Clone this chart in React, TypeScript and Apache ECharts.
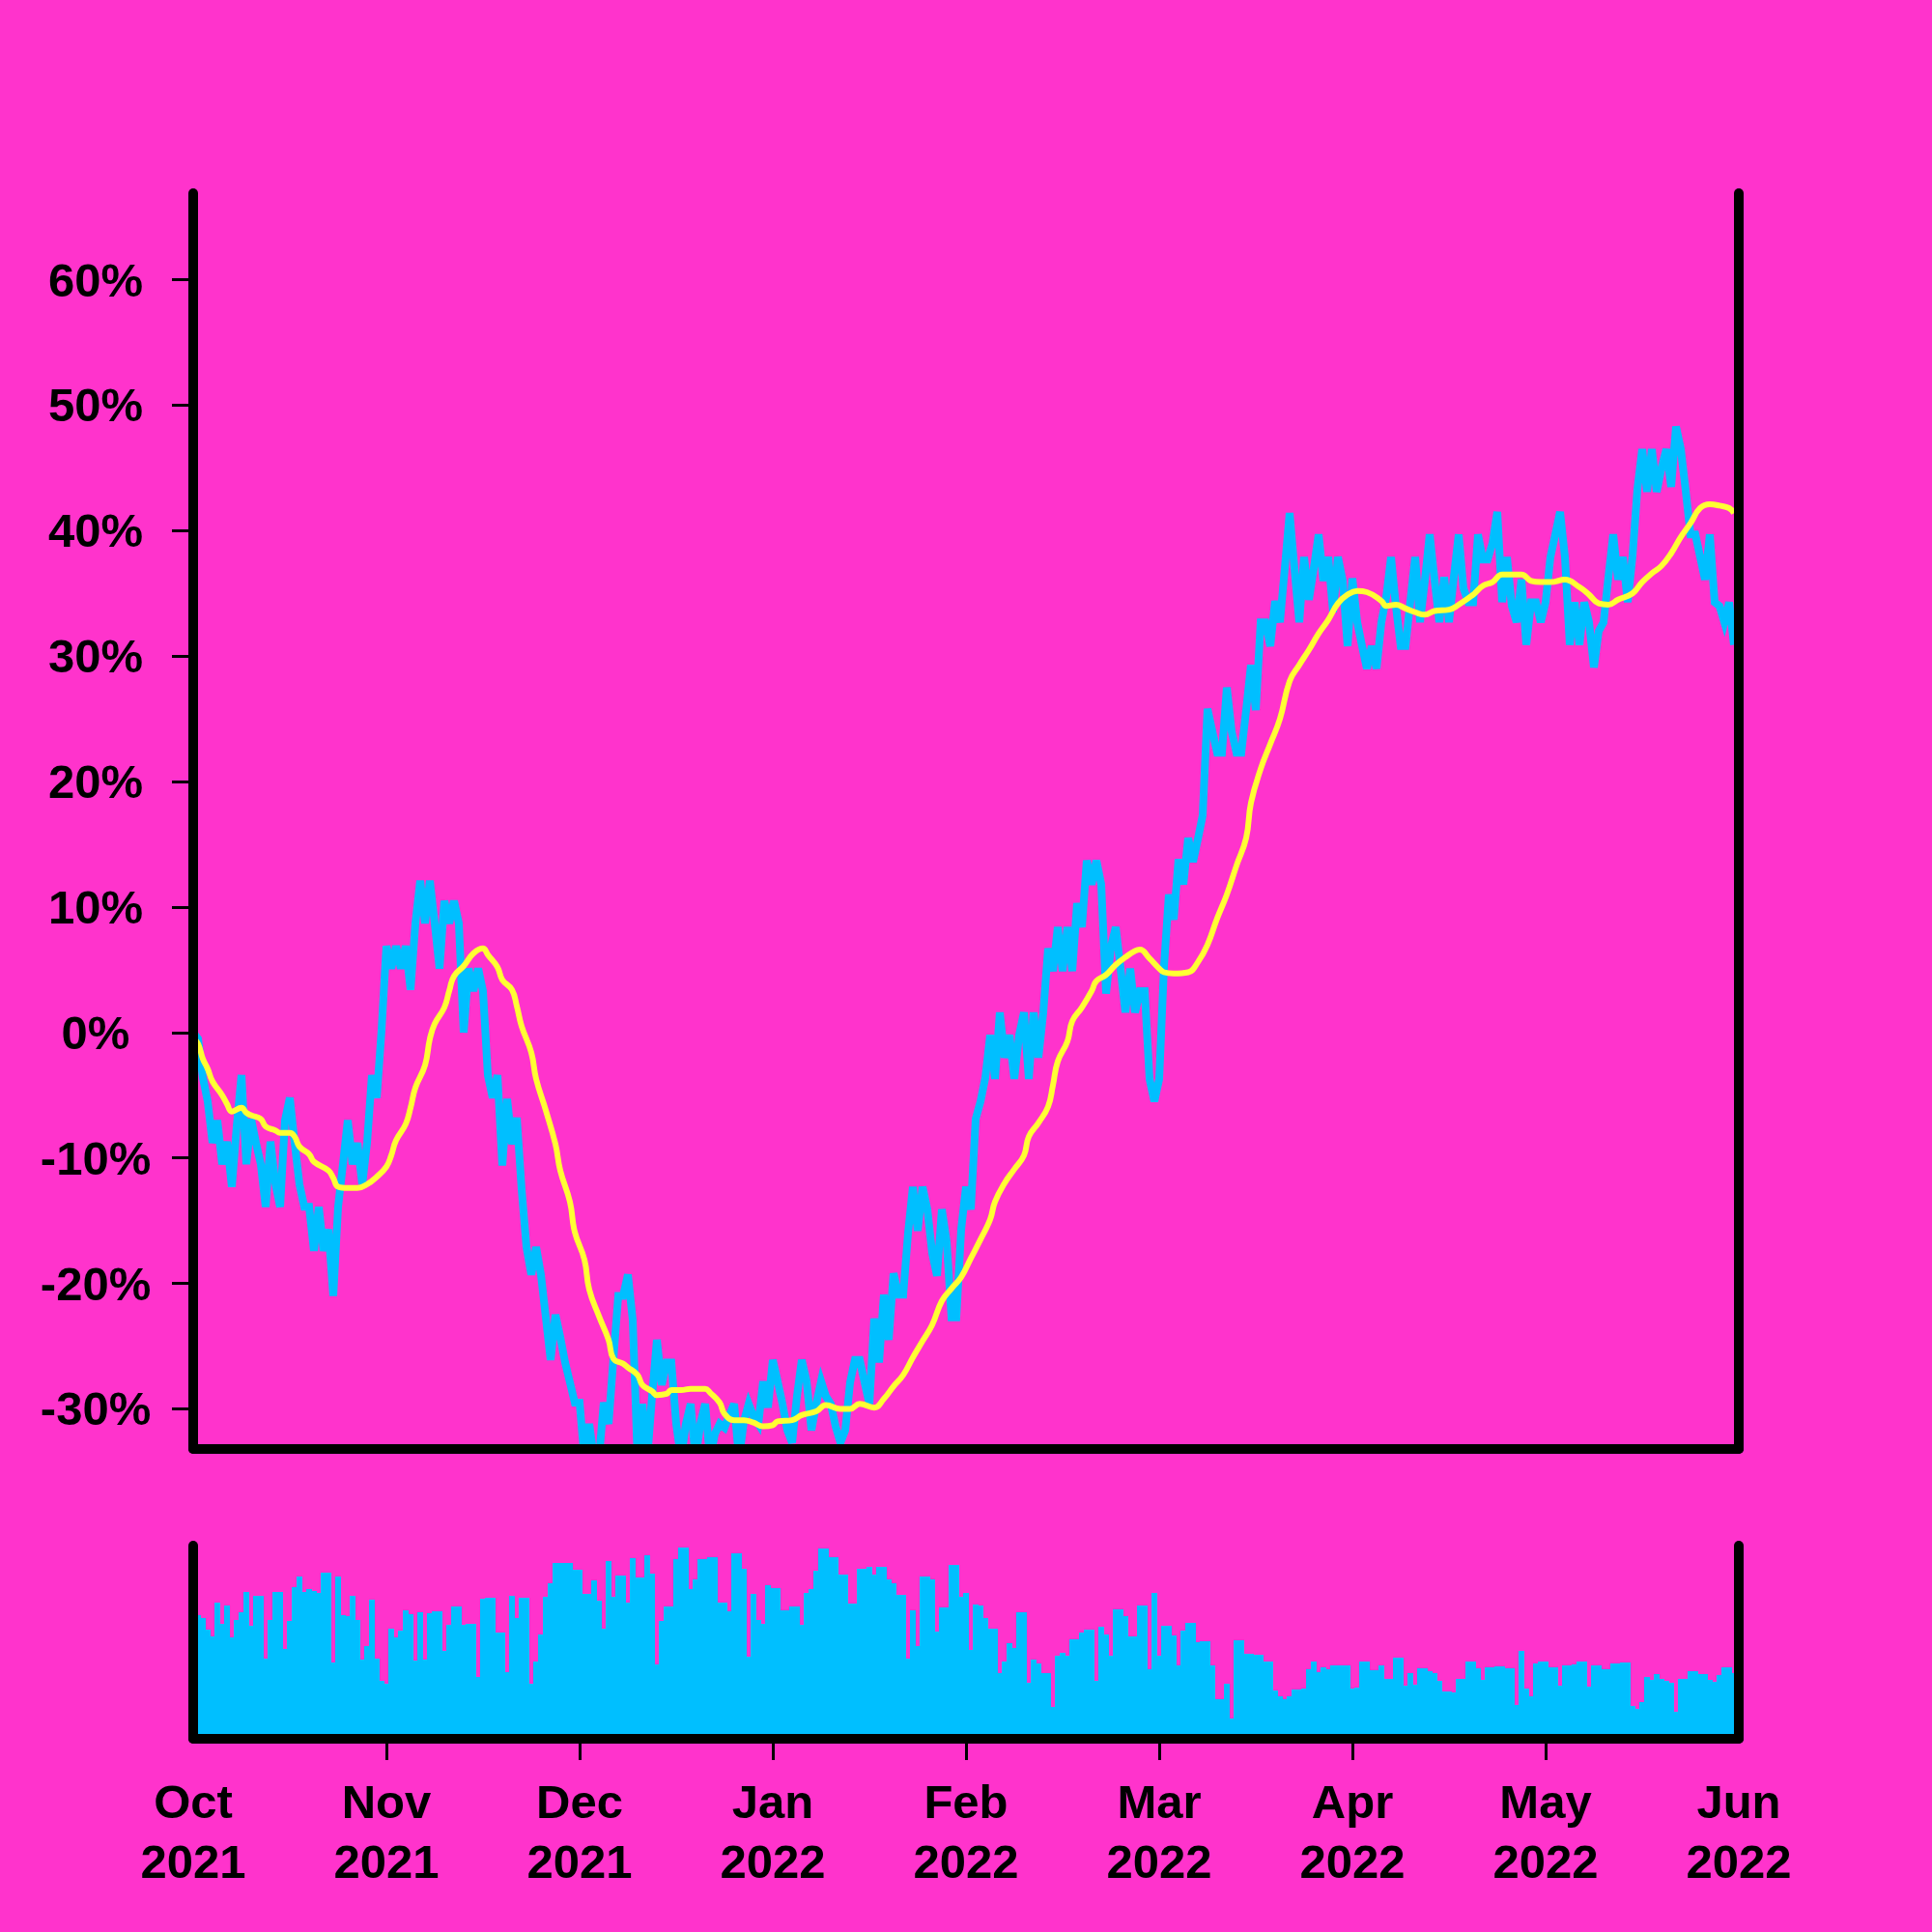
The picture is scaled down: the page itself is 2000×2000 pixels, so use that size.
import React, { useEffect, useRef } from "react";
import * as echarts from "echarts";

// ---- data ----
const monthLabels = ["Oct", "Nov", "Dec", "Jan", "Feb", "Mar", "Apr", "May", "Jun"];
const yearLabels = ["2021", "2021", "2021", "2022", "2022", "2022", "2022", "2022", "2022"];
const monthStartIdx = [0, 40, 80, 120, 160, 200, 240, 280, 320];
const innerMonthTicks = [40, 80, 120, 160, 200, 240, 280];
const yTickValues = [-30, -20, -10, 0, 10, 20, 30, 40, 50, 60];

// return vs. start (%), one value per period index 0..319
const priceValues: number[] = [
  0.0, -0.5, -3.6, -5.5, -8.8, -7.0, -10.5, -8.7, -12.3, -7.5,
  -3.4, -10.5, -6.9, -8.8, -10.5, -13.9, -8.7, -12.0, -13.9, -7.0,
  -5.2, -8.8, -12.1, -13.9, -13.9, -17.4, -13.9, -17.4, -15.7, -21.0,
  -13.9, -10.5, -7.0, -10.5, -8.8, -12.1, -8.8, -3.4, -5.2, 0.2,
  6.9, 5.1, 6.9, 5.1, 6.9, 3.4, 8.7, 12.1, 8.7, 12.1,
  8.7, 5.1, 10.5, 8.7, 10.5, 8.7, 0.0, 5.1, 3.3, 5.1,
  3.3, -3.4, -5.2, -3.4, -10.6, -5.3, -8.9, -6.8, -12.5, -17.1,
  -19.3, -17.1, -19.3, -22.7, -26.1, -22.5, -24.3, -26.3, -27.9, -29.5,
  -29.5, -34.0, -31.2, -34.0, -34.0, -29.5, -31.2, -26.0, -21.0, -21.0,
  -19.3, -22.9, -34.0, -29.6, -34.0, -29.0, -24.5, -28.1, -26.3, -26.3,
  -31.2, -34.0, -31.2, -29.6, -34.0, -31.2, -29.6, -34.0, -32.0, -31.2,
  -31.5, -30.5, -29.6, -34.0, -31.0, -29.6, -30.6, -31.2, -27.8, -29.9,
  -26.1, -27.8, -29.6, -31.7, -32.7, -29.0, -26.1, -27.8, -31.7, -29.6,
  -27.8, -29.0, -29.6, -31.4, -32.7, -31.7, -27.9, -26.1, -26.1, -27.9,
  -29.6, -22.8, -26.3, -20.9, -24.5, -19.2, -20.9, -20.9, -16.0, -12.3,
  -15.8, -12.3, -14.1, -17.6, -19.4, -14.1, -16.7, -22.7, -22.7, -15.7,
  -12.3, -14.1, -6.9, -5.5, -3.6, -0.2, -3.7, 1.6, -2.0, -0.2,
  -3.7, -0.2, 1.6, -3.7, 1.6, -2.0, 1.6, 6.7, 4.9, 8.4,
  4.9, 8.4, 4.9, 10.3, 8.4, 13.7, 11.8, 13.7, 11.8, 3.1,
  6.8, 8.4, 5.1, 1.6, 5.1, 1.6, 3.3, 3.3, -3.7, -5.5,
  -3.7, 5.3, 11.0, 9.0, 13.8, 11.8, 15.5, 13.6, 15.4, 17.3,
  25.8, 24.0, 22.3, 22.3, 27.5, 24.0, 22.3, 22.3, 25.7, 29.3,
  25.7, 32.7, 32.7, 30.8, 34.4, 32.7, 37.0, 41.4, 37.0, 32.7,
  37.9, 34.5, 37.0, 39.7, 36.0, 37.9, 33.5, 37.9, 36.0, 30.8,
  36.2, 32.7, 30.8, 29.0, 30.8, 29.0, 32.7, 34.7, 37.9, 34.0,
  30.8, 30.8, 34.4, 37.9, 32.7, 36.0, 39.7, 36.1, 32.7, 36.3,
  32.7, 36.3, 39.7, 35.4, 34.3, 34.3, 39.7, 37.7, 37.7, 39.0,
  41.5, 34.3, 37.9, 34.0, 32.7, 36.1, 30.9, 34.3, 34.3, 32.7,
  34.3, 37.9, 39.7, 41.5, 37.9, 30.9, 34.3, 30.9, 34.3, 32.7,
  29.1, 32.0, 32.7, 36.3, 39.7, 36.1, 37.9, 34.3, 38.0, 43.3,
  46.5, 43.1, 46.5, 43.1, 45.0, 46.5, 43.5, 48.3, 46.5, 43.2,
  39.7, 39.7, 37.9, 36.1, 39.7, 34.3, 34.0, 32.7, 34.3, 30.9,
];

// moving average (%), [period index, value]
const averagePoints: [number, number][] = [
  [0, -0.5], [1, -0.9], [2, -2.1], [3, -2.9], [4, -3.9], [6, -5.0], [7, -5.7], [8, -6.3],
  [10, -6.0], [11, -6.4], [12, -6.6], [14, -6.9], [15, -7.5], [17, -7.8], [18, -8.0], [20, -8.0],
  [21, -8.3], [22, -9.1], [24, -9.7], [25, -10.3], [28, -11.0], [29, -11.6], [30, -12.3], [32, -12.4],
  [34, -12.4], [36, -12.1], [38, -11.5], [40, -10.7], [41, -9.8], [42, -8.6], [44, -7.3], [45, -6.0],
  [46, -4.4], [48, -2.6], [49, -0.5], [50, 0.7], [52, 2.0], [53, 3.3], [54, 4.5], [56, 5.3],
  [58, 6.3], [60, 6.7], [61, 6.2], [63, 5.2], [64, 4.2], [66, 3.4], [67, 2.1], [68, 0.5],
  [70, -1.6], [71, -3.7], [73, -6.2], [75, -8.9], [76, -11.0], [78, -13.5], [79, -15.9], [81, -18.1],
  [82, -20.5], [84, -22.6], [86, -24.5], [87, -26.0], [89, -26.4], [90, -26.7], [92, -27.3], [93, -28.1],
  [95, -28.6], [96, -28.9], [98, -28.8], [99, -28.5], [101, -28.5], [103, -28.4], [106, -28.4], [107, -28.7],
  [109, -29.5], [110, -30.4], [112, -30.9], [114, -30.9], [116, -31.1], [118, -31.4], [120, -31.3], [121, -31.0],
  [124, -30.9], [126, -30.5], [129, -30.2], [131, -29.7], [134, -30.0], [136, -30.0], [138, -29.6], [141, -29.9],
  [143, -29.2], [145, -28.2], [147, -27.3], [149, -25.9], [151, -24.6], [153, -23.3], [155, -21.4], [157, -20.4],
  [159, -19.5], [161, -18.0], [163, -16.5], [165, -14.9], [166, -13.5], [168, -12.0], [170, -10.9], [172, -9.8],
  [173, -8.3], [175, -7.2], [177, -5.9], [178, -4.2], [179, -2.3], [181, -0.7], [182, 0.9], [184, 2.0],
  [186, 3.3], [187, 4.1], [189, 4.6], [191, 5.4], [193, 6.0], [195, 6.5], [196, 6.6], [198, 5.9],
  [200, 5.1], [201, 4.8], [203, 4.7], [206, 4.8], [208, 5.6], [210, 7.0], [212, 9.1], [214, 11.0],
  [216, 13.3], [218, 15.5], [219, 18.3], [221, 21.0], [223, 23.0], [225, 25.0], [227, 28.0], [229, 29.3],
  [231, 30.5], [233, 31.8], [235, 32.9], [237, 34.2], [239, 34.9], [241, 35.2], [243, 35.1], [246, 34.4],
  [247, 34.0], [249, 34.1], [251, 33.8], [253, 33.5], [255, 33.3], [257, 33.6], [260, 33.7], [262, 34.1],
  [265, 34.9], [267, 35.6], [269, 35.9], [271, 36.5], [273, 36.5], [275, 36.5], [277, 36.0], [279, 35.9],
  [281, 35.9], [284, 36.1], [287, 35.5], [289, 34.9], [291, 34.2], [293, 34.1], [295, 34.5], [298, 35.0],
  [300, 35.9], [302, 36.6], [304, 37.2], [306, 38.2], [308, 39.5], [310, 40.6], [312, 41.8], [314, 42.1],
  [316, 42.0], [318, 41.8], [319, 41.4],
];

// volume per period index 0..319
const volumeValues: number[] = [
  128, 128, 125, 113, 106, 141, 119, 138, 105, 123,
  131, 152, 117, 148, 148, 83, 123, 152, 152, 93,
  122, 157, 168, 152, 155, 153, 151, 172, 172, 79,
  168, 128, 127, 148, 123, 82, 96, 144, 83, 60,
  57, 114, 105, 112, 133, 129, 81, 131, 82, 130,
  132, 132, 91, 118, 137, 137, 118, 119, 119, 64,
  145, 146, 146, 110, 110, 69, 148, 125, 146, 146,
  57, 80, 108, 147, 161, 182, 182, 182, 182, 175,
  175, 150, 150, 164, 143, 114, 184, 147, 169, 169,
  141, 187, 167, 167, 190, 171, 77, 122, 137, 137,
  186, 198, 198, 155, 165, 186, 186, 188, 188, 141,
  141, 132, 192, 192, 176, 85, 150, 123, 119, 159,
  156, 156, 133, 133, 137, 137, 118, 151, 155, 174,
  197, 197, 188, 188, 170, 170, 140, 140, 176, 176,
  178, 170, 178, 178, 165, 161, 149, 149, 83, 133,
  96, 168, 168, 165, 111, 136, 136, 180, 180, 147,
  151, 92, 139, 138, 125, 114, 114, 68, 80, 99,
  94, 131, 131, 58, 82, 78, 68, 68, 33, 86,
  89, 86, 103, 103, 110, 113, 113, 60, 116, 108,
  86, 134, 134, 127, 106, 106, 138, 138, 72, 151,
  86, 117, 117, 107, 76, 112, 120, 120, 100, 101,
  101, 76, 41, 41, 57, 21, 102, 102, 88, 88,
  87, 87, 80, 80, 50, 44, 41, 44, 51, 51,
  52, 72, 80, 69, 74, 72, 76, 76, 76, 76,
  52, 53, 80, 80, 71, 71, 76, 62, 62, 84,
  84, 55, 68, 56, 73, 73, 70, 68, 60, 49,
  49, 48, 62, 62, 80, 80, 73, 61, 74, 74,
  75, 75, 73, 73, 35, 91, 52, 44, 78, 80,
  80, 74, 74, 55, 76, 76, 77, 80, 80, 54,
  76, 76, 72, 72, 78, 78, 79, 79, 34, 31,
  38, 64, 61, 67, 62, 60, 58, 28, 62, 62,
  70, 70, 67, 67, 61, 59, 66, 74, 74, 68,
];

const COLORS = {
  bg: "#ff33cc",
  price: "#00bfff",
  average: "#ffff33",
  axis: "#000000",
};

export default function App() {
  const ref = useRef<HTMLDivElement>(null);

  useEffect(() => {
    document.body.style.margin = "0";
    const chart = echarts.init(ref.current as HTMLDivElement, null, { renderer: "svg" });
    const font = "'Liberation Sans', Arial, Helvetica, sans-serif";
    const frameLine = { show: true, onZero: false, lineStyle: { color: COLORS.axis, width: 10, cap: "round" } };
    const labelText = { color: "#000", fontSize: 49, fontWeight: "bold", fontFamily: font };

    chart.setOption({
      animation: false,
      backgroundColor: COLORS.bg,
      grid: [
        { left: 200, top: 200, width: 1600, height: 1300 },
        { left: 200, top: 1600, width: 1600, height: 200 },
      ],
      xAxis: [
        {
          type: "value", gridIndex: 0, min: 0, max: 320, z: 10,
          axisLine: frameLine, axisTick: { show: false }, axisLabel: { show: false }, splitLine: { show: false },
        },
        {
          type: "value", gridIndex: 1, min: 0, max: 320, interval: 40, z: 10,
          axisLine: frameLine,
          axisTick: { show: true, length: 22, customValues: innerMonthTicks, lineStyle: { color: "#000", width: 3 } },
          axisLabel: {
            ...labelText,
            customValues: monthStartIdx,
            margin: 34,
            lineHeight: 62,
            formatter: (v: number) => {
              const k = monthStartIdx.indexOf(Math.round(v));
              return k >= 0 ? `${monthLabels[k]}\n${yearLabels[k]}` : "";
            },
          },
          splitLine: { show: false },
        },
      ],
      yAxis: [
        {
          type: "value", gridIndex: 0, min: -33.2, max: 66.9, position: "left", z: 10,
          axisLine: frameLine,
          axisTick: { show: true, length: 22, customValues: yTickValues, lineStyle: { color: "#000", width: 3 } },
          axisLabel: {
            ...labelText,
            customValues: yTickValues,
            margin: 101,
            align: "center",
            formatter: (v: number) => `${v}%`,
          },
          splitLine: { show: false },
        },
        {
          type: "value", gridIndex: 0, min: -33.2, max: 66.9, position: "right", z: 10,
          axisLine: frameLine, axisTick: { show: false }, axisLabel: { show: false }, splitLine: { show: false },
        },
        {
          type: "value", gridIndex: 1, min: 0, max: 200, position: "left", z: 10,
          axisLine: frameLine, axisTick: { show: false }, axisLabel: { show: false }, splitLine: { show: false },
        },
        {
          type: "value", gridIndex: 1, min: 0, max: 200, position: "right", z: 10,
          axisLine: frameLine, axisTick: { show: false }, axisLabel: { show: false }, splitLine: { show: false },
        },
      ],
      series: [
        {
          type: "line", xAxisIndex: 0, yAxisIndex: 0,
          data: priceValues.map((v, i) => [i, v]),
          showSymbol: false, clip: true,
          lineStyle: { color: COLORS.price, width: 8, join: "miter" },
          z: 2,
        },
        {
          type: "line", xAxisIndex: 0, yAxisIndex: 0,
          data: averagePoints,
          showSymbol: false, smooth: 0.45, clip: true,
          lineStyle: { color: COLORS.average, width: 6 },
          z: 3,
        },
        {
          type: "bar", xAxisIndex: 1, yAxisIndex: 2,
          data: volumeValues.map((v, i) => [i, v]),
          barWidth: 6,
          itemStyle: { color: COLORS.price },
          z: 2,
        },
      ],
    });
    return () => chart.dispose();
  }, []);

  return <div ref={ref} style={{ width: 2000, height: 2000 }} />;
}
